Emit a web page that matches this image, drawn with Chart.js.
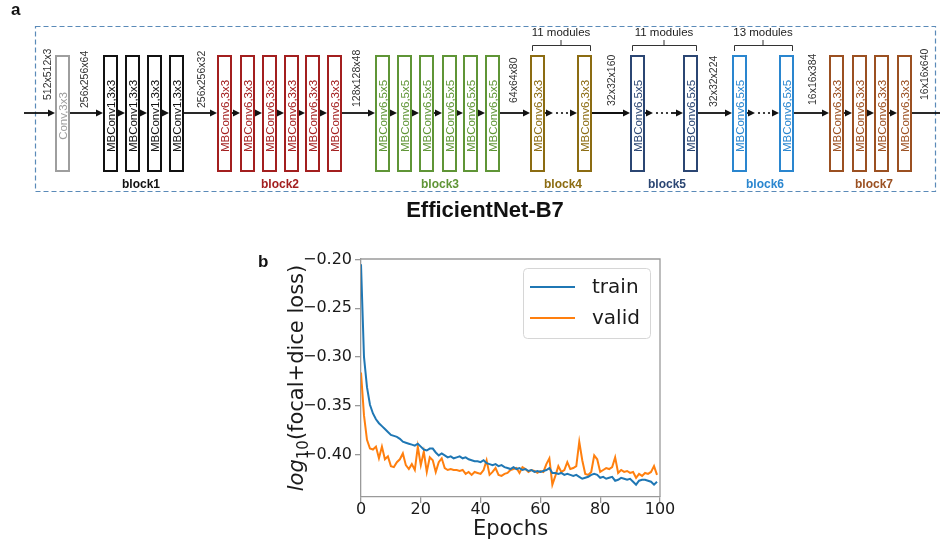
<!DOCTYPE html>
<html>
<head>
<meta charset="utf-8">
<script src="https://cdn.jsdelivr.net/npm/chart.js@4.4.0/dist/chart.umd.min.js"></script>
<style>
  html, body { margin: 0; padding: 0; background: #fff; }
  #page { position: relative; width: 940px; height: 546px; overflow: hidden; }
  #diagram { position: absolute; left: 0; top: 0; }
  #lossChart { position: absolute; left: 240px; top: 230px; }
  .panel { position: absolute; font: bold 17px 'Liberation Sans', Arial, sans-serif; color: #111; }
</style>
</head>
<body>
<div id="page">
  <canvas id="diagram" width="940" height="230"></canvas>
  <canvas id="lossChart" width="440" height="316"></canvas>
  <div class="panel" style="left:11px; top:0px;">a</div>
  <div class="panel" style="left:258px; top:252px;">b</div>
</div>
<script>
// ---- loss curves (panel b) ----
const epochs = Array.from({ length: 100 }, (_, i) => i);
const trainLoss = [
  -0.205, -0.300, -0.331, -0.349, -0.358, -0.364, -0.368, -0.371, -0.374, -0.377,
  -0.380, -0.381, -0.382, -0.384, -0.387, -0.388, -0.389, -0.390, -0.391, -0.389,
  -0.392, -0.395, -0.396, -0.394, -0.394, -0.398, -0.401, -0.399, -0.401, -0.403,
  -0.402, -0.404, -0.403, -0.402, -0.404, -0.403, -0.405, -0.406, -0.407, -0.407,
  -0.408, -0.406, -0.409, -0.410, -0.411, -0.410, -0.412, -0.411, -0.413, -0.414,
  -0.415, -0.413, -0.415, -0.414, -0.416, -0.415, -0.417, -0.416, -0.418, -0.417,
  -0.418, -0.417, -0.416, -0.414, -0.419, -0.419, -0.420, -0.419, -0.421, -0.420,
  -0.421, -0.422, -0.421, -0.423, -0.425, -0.424, -0.423, -0.421, -0.420, -0.421,
  -0.424, -0.423, -0.425, -0.424, -0.423, -0.427, -0.426, -0.424, -0.425, -0.426,
  -0.425, -0.428, -0.431, -0.427, -0.426, -0.426, -0.427, -0.428, -0.431, -0.428
];
const validLoss = [
  -0.316, -0.360, -0.385, -0.394, -0.395, -0.392, -0.404, -0.392, -0.405, -0.402,
  -0.412, -0.413, -0.408, -0.405, -0.399, -0.411, -0.415, -0.410, -0.416, -0.392,
  -0.411, -0.397, -0.418, -0.403, -0.406, -0.418, -0.408, -0.404, -0.414, -0.416,
  -0.415, -0.416, -0.416, -0.417, -0.416, -0.420, -0.418, -0.421, -0.418, -0.419,
  -0.420, -0.416, -0.406, -0.421, -0.418, -0.414, -0.421, -0.422, -0.420, -0.419,
  -0.416, -0.415, -0.414, -0.419, -0.413, -0.415, -0.418, -0.416, -0.417, -0.419,
  -0.417, -0.418, -0.410, -0.404, -0.431, -0.422, -0.412, -0.418, -0.416, -0.408,
  -0.415, -0.414, -0.412, -0.387, -0.406, -0.420, -0.421, -0.418, -0.401, -0.405,
  -0.418, -0.416, -0.414, -0.415, -0.413, -0.403, -0.419, -0.416, -0.418, -0.417,
  -0.419, -0.418, -0.424, -0.420, -0.422, -0.419, -0.420, -0.418, -0.412, -0.421
];
const seriesNames = ['train', 'valid'];
const xTicks = [0, 20, 40, 60, 80, 100];
const yTicks = [-0.40, -0.35, -0.30, -0.25, -0.20];

// ---- architecture diagram (panel a) ----
const blockNames = ['block1', 'block2', 'block3', 'block4', 'block5', 'block6', 'block7'];
const blockColors = ['#111111', '#a31f1f', '#5f9536', '#8c6c12', '#2b4673', '#2a86cf', '#9b5021'];
const blockModules = ['MBConv1,3x3', 'MBConv6,3x3', 'MBConv6,5x5', 'MBConv6,3x3', 'MBConv6,5x5', 'MBConv6,5x5', 'MBConv6,3x3'];
const blockBoxX = [
  [103, 125, 147, 169],
  [217, 240, 262, 284, 305, 327],
  [375, 397, 419, 442, 463, 485],
  [530, 577],
  [630, 683],
  [732, 779],
  [829, 852, 874, 897]
];
const blockLabelX = [141, 280, 440, 563, 667, 765, 874];
const repeatedBlocks = { 3: '11 modules', 4: '11 modules', 5: '13 modules' };
const tensorSizes = ['512x512x3', '256x256x64', '256x256x32', '128x128x48', '64x64x80', '32x32x160', '32x32x224', '16x16x384', '16x16x640'];
const tensorX = [48, 85, 202, 357, 514, 612, 714, 813, 925];
const tensorBottom = [100, 108, 108, 107, 103, 106, 107, 105, 100];

function drawDiagram() {
  const ctx = document.getElementById('diagram').getContext('2d');
  const font = "'Liberation Sans', Arial, sans-serif";
  const lineY = 113, boxTop = 55, boxH = 117, boxW = 15;

  // dashed frame
  ctx.save();
  ctx.strokeStyle = '#5a8ab8';
  ctx.lineWidth = 1.2;
  ctx.setLineDash([5, 3]);
  ctx.strokeRect(35.5, 26.5, 900, 165);
  ctx.restore();

  // all modules in order
  const boxes = [{ x: 55, color: '#9e9e9e', text: 'Conv,3x3', block: -1 }];
  blockBoxX.forEach((xs, b) => xs.forEach(x => boxes.push({ x, color: blockColors[b], text: blockModules[b], block: b })));

  ctx.strokeStyle = '#111';
  ctx.fillStyle = '#111';
  ctx.lineWidth = 1.8;
  function seg(x1, x2, head) {
    ctx.beginPath();
    ctx.moveTo(x1, lineY);
    ctx.lineTo(head ? x2 - 5 : x2, lineY);
    ctx.stroke();
    if (head) {
      ctx.beginPath();
      ctx.moveTo(x2, lineY);
      ctx.lineTo(x2 - 7, lineY - 3.5);
      ctx.lineTo(x2 - 7, lineY + 3.5);
      ctx.closePath();
      ctx.fill();
    }
  }
  seg(24, boxes[0].x, true);
  for (let i = 0; i < boxes.length - 1; i++) {
    const a = boxes[i], b = boxes[i + 1];
    const r = a.x + boxW;
    if (a.block === b.block && repeatedBlocks[a.block]) {
      seg(r, r + 8, true);
      [12, 17, 22].forEach(d => {
        ctx.beginPath();
        ctx.arc(r + d, lineY, 1.1, 0, Math.PI * 2);
        ctx.fill();
      });
      seg(r + 26, b.x, true);
    } else {
      seg(r, b.x, true);
    }
  }
  seg(boxes[boxes.length - 1].x + boxW, 940, false);

  // boxes and their labels
  boxes.forEach(bx => {
    ctx.fillStyle = '#fff';
    ctx.fillRect(bx.x + 1, boxTop + 1, boxW - 2, boxH - 2);
    ctx.strokeStyle = bx.color;
    ctx.lineWidth = 2;
    ctx.strokeRect(bx.x + 1, boxTop + 1, boxW - 2, boxH - 2);
    ctx.save();
    ctx.translate(bx.x + boxW / 2, 116);
    ctx.rotate(-Math.PI / 2);
    ctx.fillStyle = bx.color;
    ctx.font = '11.5px ' + font;
    ctx.textAlign = 'center';
    ctx.textBaseline = 'middle';
    ctx.fillText(bx.text, 0, 1);
    ctx.restore();
  });

  // tensor sizes
  ctx.fillStyle = '#333';
  ctx.font = '10.5px ' + font;
  tensorSizes.forEach((t, i) => {
    ctx.save();
    ctx.translate(tensorX[i], tensorBottom[i]);
    ctx.rotate(-Math.PI / 2);
    ctx.textAlign = 'left';
    ctx.textBaseline = 'middle';
    ctx.fillText(t, 0, 0);
    ctx.restore();
  });

  // block names
  ctx.font = 'bold 12px ' + font;
  ctx.textAlign = 'center';
  ctx.textBaseline = 'middle';
  blockNames.forEach((n, b) => {
    ctx.fillStyle = blockColors[b];
    ctx.fillText(n, blockLabelX[b], 185);
  });

  // module brackets
  Object.keys(repeatedBlocks).forEach(k => {
    const xs = blockBoxX[k];
    const x1 = xs[0] + 2, x2 = xs[xs.length - 1] + boxW - 2, mid = (x1 + x2) / 2;
    ctx.strokeStyle = '#333';
    ctx.lineWidth = 1;
    ctx.beginPath();
    ctx.moveTo(x1 + 0.5, 51); ctx.lineTo(x1 + 0.5, 45.5); ctx.lineTo(x2 + 0.5, 45.5); ctx.lineTo(x2 + 0.5, 51);
    ctx.moveTo(mid, 45.5); ctx.lineTo(mid, 40);
    ctx.stroke();
    ctx.fillStyle = '#222';
    ctx.font = '11.5px ' + font;
    ctx.fillText(repeatedBlocks[k], mid, 33);
  });

  // title
  ctx.fillStyle = '#111';
  ctx.font = 'bold 22px ' + font;
  ctx.fillText('EfficientNet-B7', 485, 211);
}
drawDiagram();

// ---- chart ----
const chartFont = "'DejaVu Sans', sans-serif";
const spine = '#9a9a9a';

const framePlugin = {
  id: 'frame',
  afterDraw(chart) {
    const { ctx, chartArea: a } = chart;
    ctx.save();
    ctx.strokeStyle = spine;
    ctx.lineWidth = 1.3;
    ctx.beginPath();
    ctx.moveTo(a.left, a.top); ctx.lineTo(a.right, a.top); ctx.lineTo(a.right, a.bottom);
    ctx.stroke();

    // legend, matplotlib style
    const lx = a.right - 137, ly = a.top + 9, lw = 127, lh = 70;
    ctx.fillStyle = 'rgba(255,255,255,0.8)';
    ctx.strokeStyle = '#d6d6d6';
    ctx.lineWidth = 1;
    ctx.beginPath();
    ctx.roundRect(lx + 0.5, ly + 0.5, lw, lh, 4);
    ctx.fill();
    ctx.stroke();
    chart.data.datasets.forEach((ds, i) => {
      const y = ly + 19 + i * 31;
      ctx.strokeStyle = ds.borderColor;
      ctx.lineWidth = 2;
      ctx.beginPath();
      ctx.moveTo(lx + 7, y); ctx.lineTo(lx + 52, y);
      ctx.stroke();
      ctx.fillStyle = '#1a1a1a';
      ctx.font = '20px ' + chartFont;
      ctx.textAlign = 'left';
      ctx.textBaseline = 'middle';
      ctx.fillText(ds.label, lx + 69, y + 1);
    });

    // y axis title: log10(focal+dice loss)
    const parts = [
      { t: 'log', f: 'italic 21px ' + chartFont, dy: 0 },
      { t: '10', f: '15px ' + chartFont, dy: 5 },
      { t: '(focal+dice loss)', f: '21px ' + chartFont, dy: 0 }
    ];
    let total = 0;
    parts.forEach(p => { ctx.font = p.f; p.w = ctx.measureText(p.t).width; total += p.w; });
    ctx.translate(55, (a.top + a.bottom) / 2);
    ctx.rotate(-Math.PI / 2);
    ctx.fillStyle = '#1a1a1a';
    ctx.textBaseline = 'alphabetic';
    let x = -total / 2;
    parts.forEach(p => { ctx.font = p.f; ctx.fillText(p.t, x, 8 + p.dy); x += p.w; });
    ctx.restore();
  }
};

const axisStyle = {
  grid: { drawOnChartArea: false, drawTicks: true, tickLength: 6, color: spine, lineWidth: 1.3 },
  border: { display: true, color: spine, width: 1.3 }
};

new Chart(document.getElementById('lossChart'), {
  type: 'line',
  data: {
    datasets: [
      { label: seriesNames[0], data: epochs.map((e, i) => ({ x: e, y: trainLoss[i] })),
        borderColor: '#1f77b4', borderWidth: 2, pointRadius: 0, tension: 0, fill: false },
      { label: seriesNames[1], data: epochs.map((e, i) => ({ x: e, y: validLoss[i] })),
        borderColor: '#ff7f0e', borderWidth: 2, pointRadius: 0, tension: 0, fill: false }
    ]
  },
  options: {
    responsive: false,
    animation: false,
    layout: { padding: { left: 43, right: 20, top: 29, bottom: 0 } },
    plugins: { legend: { display: false }, tooltip: { enabled: false } },
    scales: {
      x: {
        type: 'linear', min: 0, max: 100,
        afterBuildTicks: s => { s.ticks = xTicks.map(v => ({ value: v })); },
        afterFit: s => { s.height = 49; },
        ticks: { font: { family: chartFont, size: 16 }, color: '#1a1a1a', padding: -3, maxRotation: 0, autoSkip: false },
        title: { display: true, text: 'Epochs', font: { family: chartFont, size: 21 }, color: '#1a1a1a', padding: { top: 0, bottom: 4 } },
        ...axisStyle
      },
      y: {
        type: 'linear', min: -0.4437, max: -0.1995,
        afterBuildTicks: s => { s.ticks = yTicks.map(v => ({ value: v })); },
        afterFit: s => { s.width = 78; },
        ticks: {
          font: { family: chartFont, size: 16 }, color: '#1a1a1a', padding: 3, autoSkip: false,
          callback: v => (v < 0 ? '\u2212' : '') + Math.abs(v).toFixed(2)
        },
        ...axisStyle
      }
    }
  },
  plugins: [framePlugin]
});
</script>
</body>
</html>
